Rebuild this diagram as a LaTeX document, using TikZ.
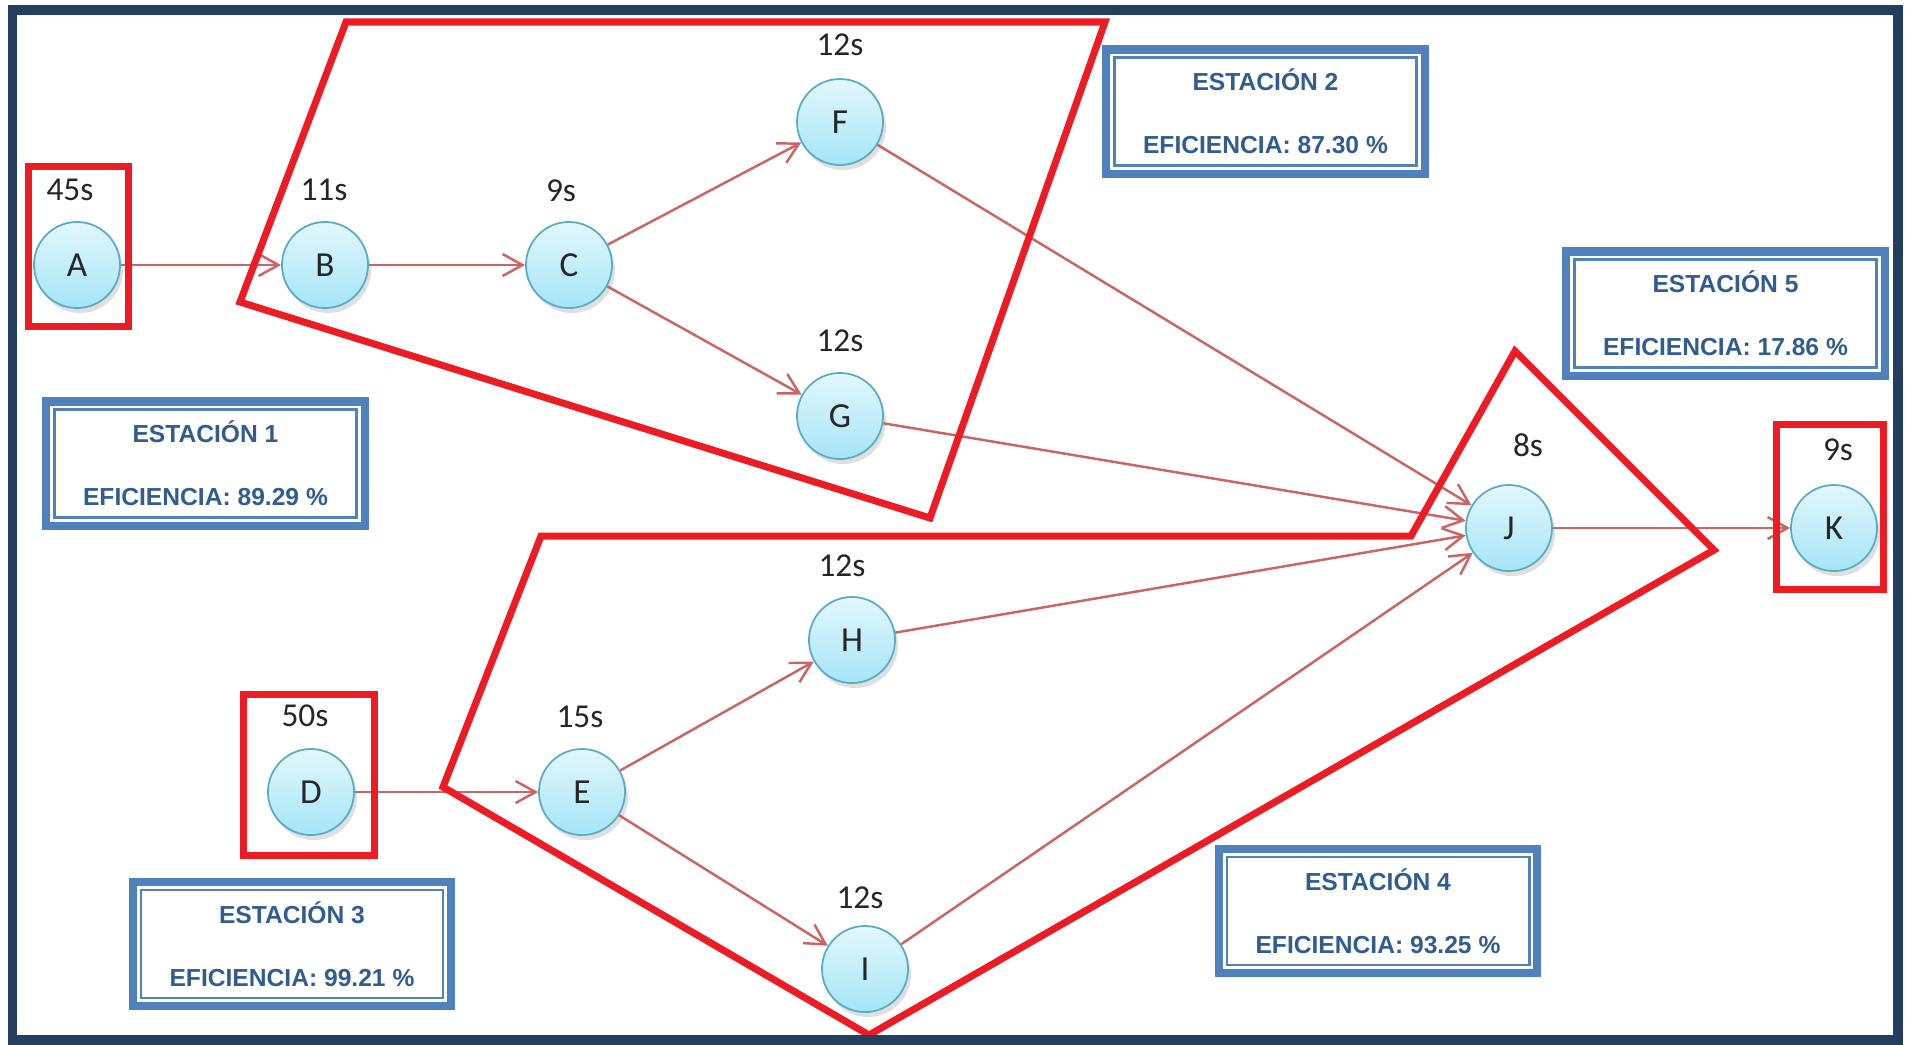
\documentclass[tikz,border=0pt]{standalone}
\usepackage{fontspec}
\setmainfont{Carlito}
\newfontfamily\boxfont{Liberation Sans}
\usepackage{tikz}
\usetikzlibrary{positioning,arrows.meta,shadows}
\definecolor{nodeedge}{RGB}{88,172,198}
\definecolor{nodetop}{RGB}{226,247,253}
\definecolor{nodebot}{RGB}{165,229,247}
\definecolor{arrowred}{RGB}{204,100,100}
\definecolor{zonered}{RGB}{237,28,36}
\definecolor{boxblue}{RGB}{79,129,189}
\definecolor{boxtext}{RGB}{49,92,145}
\definecolor{frameblue}{RGB}{36,62,96}

\begin{document}
\begin{tikzpicture}[x=0.01cm, y=-0.01cm,
        task/.style={circle, draw=nodeedge, line width=0.5pt, top color=nodetop, bottom color=nodebot, minimum size=0.86cm, inner sep=0pt, text=black!85, font=\fontsize{10}{12}\selectfont, drop shadow={shadow xshift=0.03cm, shadow yshift=-0.05cm, opacity=0.25}},
        dur/.style={inner sep=0pt, text=black!85, font=\fontsize{9.5}{11}\selectfont},
        station/.style={draw=boxblue, line width=2.3pt, fill=white, outer sep=0pt, minimum width=3.18cm, minimum height=1.24cm, align=center, text=boxtext, font=\boxfont\bfseries\fontsize{7}{8.4}\selectfont},
        zone/.style={draw=zonered, line width=2pt},
        flow/.style={->, draw=arrowred, line width=0.7pt},
        >={Straight Barb[length=2mm, width=2.2mm]}
    ]
        \useasboundingbox (0,0) rectangle (1908,1044);
        \fill[white] (0,0) rectangle (1908,1044);

        \node [task] (A) at (77,265) {A};
        \node [task] (B) at (325,265) {B};
        \node [task] (C) at (569,265) {C};
        \node [task] (F) at (840,122) {F};
        \node [task] (G) at (840,416) {G};
        \node [task] (D) at (311,792) {D};
        \node [task] (E) at (582,792) {E};
        \node [task] (H) at (852,640) {H};
        \node [task] (I) at (865,969) {I};
        \node [task] (J) at (1509,528) {J};
        \node [task] (K) at (1834,528) {K};

        \node [dur] (tA) at (70,190) {45s};
        \node [dur] (tB) at (324,190) {11s};
        \node [dur] (tC) at (561,191) {9s};
        \node [dur] (tF) at (840,45) {12s};
        \node [dur] (tG) at (840,341) {12s};
        \node [dur] (tD) at (305,716) {50s};
        \node [dur] (tE) at (580,717) {15s};
        \node [dur] (tH) at (842,566) {12s};
        \node [dur] (tI) at (860,898) {12s};
        \node [dur] (tJ) at (1528,445) {8s};
        \node [dur] (tK) at (1838,450) {9s};

        \draw [flow] (A) -- (B);
        \draw [flow] (B) -- (C);
        \draw [flow] (C) -- (F);
        \draw [flow] (C) -- (G);
        \draw [flow] (F) -- (J);
        \draw [flow] (G) -- (J);
        \draw [flow] (D) -- (E);
        \draw [flow] (E) -- (H);
        \draw [flow] (E) -- (I);
        \draw [flow] (H) -- (J);
        \draw [flow] (I) -- (J);
        \draw [flow] (J) -- (K);

        \draw [zone] (28.5,166.5) rectangle (128.5,326.5);
        \draw [zone] (346,22) -- (1105,22) -- (930,518) -- (240,302) -- cycle;
        \draw [zone] (243.5,694.5) rectangle (374.5,855.5);
        \draw [zone] (541,536) -- (1411,536) -- (1515,351) -- (1714,550) -- (869,1035) -- (443,787) -- cycle;
        \draw [zone] (1776.5,424.5) rectangle (1883.5,589.5);

        \node [station] (s1) at (205.5,463.5) {ESTACIÓN 1\\[9.5pt]EFICIENCIA: 89.29 \%};
        \node [station] (s2) at (1265.5,111.5) {ESTACIÓN 2\\[9.5pt]EFICIENCIA: 87.30 \%};
        \node [station] (s3) at (292,944) {ESTACIÓN 3\\[9.5pt]EFICIENCIA: 99.21 \%};
        \node [station] (s4) at (1378,911) {ESTACIÓN 4\\[9.5pt]EFICIENCIA: 93.25 \%};
        \node [station] (s5) at (1725.5,313.5) {ESTACIÓN 5\\[9.5pt]EFICIENCIA: 17.86 \%};
        \foreach \s in {s1,s2,s3,s4,s5}
            \draw [boxblue, line width=0.8pt] ([xshift=0.08cm, yshift=-0.08cm]\s.north west) rectangle ([xshift=-0.08cm, yshift=0.08cm]\s.south east);

        \draw [frameblue, line width=2.6pt] (12.5,10) rectangle (1898,1040);
    \end{tikzpicture}
\end{document}
